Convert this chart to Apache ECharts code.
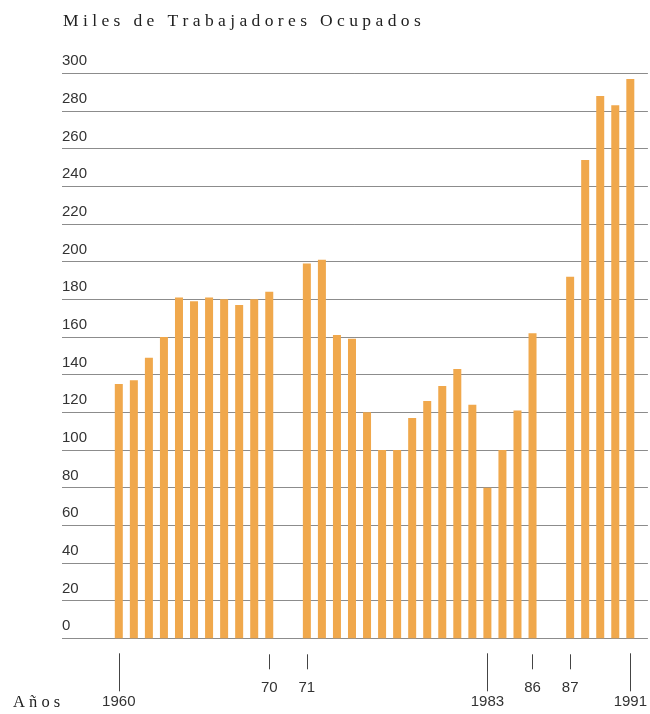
<!DOCTYPE html>
<html>
<head>
<meta charset="utf-8">
<script src="https://cdn.jsdelivr.net/npm/echarts@6/dist/echarts.min.js"></script>
<style>
  html, body { margin: 0; padding: 0; background: #fff; }
  #chart { width: 650px; height: 714px; }
</style>
</head>
<body>
<div id="chart"></div>
<script>
// ---- data ----
const years = [1960, 1961, 1962, 1963, 1964, 1965, 1966, 1967, 1968, 1969, 1970,
               1971, 1972, 1973, 1974, 1975, 1976, 1977, 1978, 1979, 1980, 1981, 1982, 1983, 1984, 1985, 1986,
               1987, 1988, 1989, 1990, 1991];
const workers = [135, 137, 149, 160, 181, 179, 181, 180, 177, 180, 184,
                 199, 201, 161, 159, 120, 100, 100, 117, 126, 134, 143, 124, 80, 100, 121, 162,
                 192, 254, 288, 283, 297];
const breakAfter = [1970, 1986];           // series are interrupted after these years
const longTickYears = [1960, 1983, 1991];
const longTickLabels = ['1960', '1983', '1991'];
const shortTickYears = [1970, 1971, 1986, 1987];
const shortTickLabels = ['70', '71', '86', '87'];
const yTicks = [0, 20, 40, 60, 80, 100, 120, 140, 160, 180, 200, 220, 240, 260, 280, 300];
const titleText = 'Miles de Trabajadores Ocupados';
const xName = 'Años';

// ---- layout helpers ----
const GAP = 1.5;
function slotOf(year) {
  let s = year - years[0];
  breakAfter.forEach(b => { if (year > b) s += GAP; });
  return s;
}
function spaced(t) { return t.split('').join(' '); }

const barData = years.map((y, i) => [slotOf(y), workers[i]]);
const longVals = longTickYears.map(slotOf);
const shortVals = shortTickYears.map(slotOf);
const labelFor = (vals, labels) => v => {
  const i = vals.findIndex(x => Math.abs(x - v) < 1e-6);
  return i >= 0 ? labels[i] : '';
};

const X_MIN = -3.776, X_MAX = 35.17;
const txt = '#333';
const sans = 'Liberation Sans, Arial, sans-serif';
const serif = 'Liberation Serif, Times New Roman, serif';

const chart = echarts.init(document.getElementById('chart'), null, { renderer: 'canvas' });
chart.setOption({
  backgroundColor: '#ffffff',
  animation: false,
  title: {
    text: spaced(titleText),
    left: 58, top: 7,
    textStyle: { fontFamily: serif, fontSize: 17.5, fontWeight: 'normal', color: '#222' }
  },
  graphic: [{
    type: 'text', left: 13, top: 694,
    style: { text: spaced(xName), fontFamily: serif, fontSize: 16.5, fill: '#222' }
  }],
  grid: { left: 62, right: 0, top: 73.3, bottom: 75.7, containLabel: false },
  xAxis: [
    {
      type: 'value', min: X_MIN, max: X_MAX,
      axisLine: { show: false }, axisTick: { show: false },
      axisLabel: { show: false }, splitLine: { show: false }
    },
    {
      type: 'value', min: X_MIN, max: X_MAX, position: 'bottom', offset: 15,
      axisLine: { show: false },
      splitLine: { show: false },
      axisTick: { show: true, length: 38, customValues: longVals, lineStyle: { color: '#444', width: 1 } },
      axisLabel: { show: true, customValues: longVals, margin: 41, formatter: labelFor(longVals, longTickLabels),
                   fontFamily: sans, fontSize: 15, color: txt }
    },
    {
      type: 'value', min: X_MIN, max: X_MAX, position: 'bottom', offset: 16,
      axisLine: { show: false },
      splitLine: { show: false },
      axisTick: { show: true, length: 15, customValues: shortVals, lineStyle: { color: '#444', width: 1 } },
      axisLabel: { show: true, customValues: shortVals, margin: 26, formatter: labelFor(shortVals, shortTickLabels),
                   fontFamily: sans, fontSize: 15, color: txt }
    }
  ],
  yAxis: {
    type: 'value', min: yTicks[0], max: yTicks[yTicks.length - 1], interval: yTicks[1] - yTicks[0],
    axisLine: { show: false }, axisTick: { show: false },
    axisLabel: {
      inside: true, margin: 0, align: 'left', verticalAlign: 'bottom',
      padding: [0, 0, 4, 0], lineHeight: 16,
      fontFamily: sans, fontSize: 15, color: txt
    },
    splitLine: { show: true, lineStyle: { color: '#8c8c8c', width: 1 } }
  },
  series: [{
    type: 'bar', xAxisIndex: 0, data: barData, barWidth: 8,
    itemStyle: { color: '#F0A84C' }, z: 3
  }]
});
</script>
</body>
</html>
